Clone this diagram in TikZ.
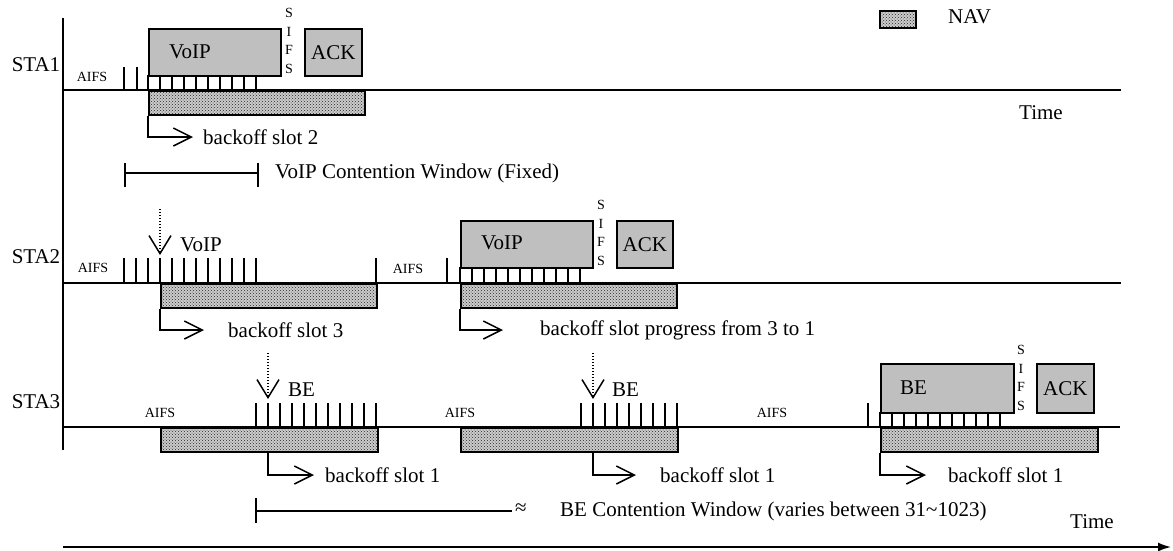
\documentclass[tikz,border=0pt]{standalone}
\usepackage{fontspec}
\setmainfont{Liberation Serif}
\usetikzlibrary{arrows.meta,patterns}
\begin{document}
\begin{tikzpicture}[x=1pt,y=-1pt,
  axis/.style={line width=1.6pt},
  tick/.style={line width=1.4pt},
  frame/.style={draw,line width=1.6pt,fill=gray!50,inner sep=0pt,anchor=north west},
  nav/.style={draw,line width=1.6pt,preaction={fill=gray!40},pattern=crosshatch dots,pattern color=black!85,inner sep=0pt,anchor=north west},
  lbl/.style={font=\fontsize{21}{21}\selectfont,inner sep=0pt},
  small/.style={font=\fontsize{14}{18.5}\selectfont,inner sep=0pt,align=center},
  bo/.style={line width=1.4pt,-{Straight Barb[length=18pt,width=18pt,line width=1.5pt]}},
  dotarr/.style={line width=1.2pt,dash pattern=on 1.4pt off 1.6pt,-{Straight Barb[length=18pt,width=22pt,line width=1.5pt]}}
]
\fill[white] (0,0) rectangle (1173,550);
\useasboundingbox (0,0) rectangle (1173,550);

% legend
\node[nav,minimum width=36pt,minimum height=17pt] (leg) at (879,10) {};
\node[lbl,anchor=west] (legt) at (948,17) {NAV};
\node[lbl] (time1) at (1041,113) {Time};

% axis
\coordinate (axtop) at (63,18);
\coordinate (axbot) at (63,450);
\draw[axis] (axtop) -- (axbot);

% ---------------- STA1 ----------------
\node[lbl] (sta1) at (36,65) {STA1};
\node[small] (aifs1) at (92,77) {AIFS};
\foreach \x in {124,137} \draw[tick] (\x,67) -- (\x,90);
\node[frame,minimum width=132pt,minimum height=47pt] (voip1) at (148,28) {};
\node[lbl,anchor=west] (voip1t) at (169,52) {VoIP};
\foreach \k in {0,...,9} \draw[tick] ({148+12*\k},75) -- ({148+12*\k},90);
\node[small] (sifs1) at (289,41) {S\\I\\F\\S};
\node[frame,minimum width=57pt,minimum height=47pt] (ack1) at (304,28) {};
\node[lbl] at (ack1.center) {ACK};
\node[nav,minimum width=216pt,minimum height=24pt] (nav1) at (148,90) {};
\coordinate (l1a) at (63,90); \coordinate (l1b) at (1121,90);
\draw[axis] (l1a) -- (l1b);
\node[lbl,anchor=west] (bs1) at (203,137) {backoff slot 2};
\draw[bo] (nav1.south west) |- ([xshift=-10pt]bs1.west);
% VoIP CW
\coordinate (cw1a) at (125,173); \coordinate (cw1b) at (258,173);
\draw[axis] (cw1a) -- (cw1b);
\draw[axis] (125,163) -- (125,187);
\draw[axis] (258,163) -- (258,187);
\node[lbl,anchor=west] (cw1t) at (275,173) {VoIP Contention Window (Fixed)};

% ---------------- STA2 ----------------
\node[lbl] (sta2) at (36,257) {STA2};
\node[small] (aifs2a) at (93,268) {AIFS};
\foreach \k in {0,...,11} \draw[tick] ({124+12*\k},258) -- ({124+12*\k},283);
\coordinate (d2a) at (160,209); \coordinate (d2b) at (160,255);
\draw[dotarr] (d2a) -- (d2b);
\node[lbl,anchor=west] (v2t) at (180,245) {VoIP};
\node[nav,minimum width=216pt,minimum height=24pt] (nav2a) at (160,283) {};
\draw[tick] (376,258) -- (376,283);
\node[small] (aifs2b) at (408,269) {AIFS};
\draw[tick] (447,258) -- (447,283);
\node[frame,minimum width=132pt,minimum height=47pt] (voip2) at (460,220) {};
\node[lbl,anchor=west] (voip2t) at (481,243) {VoIP};
\foreach \k in {0,...,10} \draw[tick] ({460+12*\k},267) -- ({460+12*\k},283);
\node[small] (sifs2) at (601,233) {S\\I\\F\\S};
\node[frame,minimum width=56pt,minimum height=47pt] (ack2) at (616,220) {};
\node[lbl] at (ack2.center) {ACK};
\node[nav,minimum width=216pt,minimum height=24pt] (nav2b) at (460,283) {};
\coordinate (l2a) at (63,283); \coordinate (l2b) at (1121,283);
\draw[axis] (l2a) -- (l2b);
\node[lbl,anchor=west] (bs2a) at (228,330) {backoff slot 3};
\draw[bo] (nav2a.south west) |- ([xshift=-24pt]bs2a.west);
\node[lbl,anchor=west] (bs2b) at (540,330) {backoff slot progress from 3 to 1};
\draw[bo] (nav2b.south west) |- ([xshift=-37pt]bs2b.west);

% ---------------- STA3 ----------------
\node[lbl] (sta3) at (36,402) {STA3};
\node[small] (aifs3a) at (160,413) {AIFS};
\node[small] (aifs3b) at (460,413) {AIFS};
\node[small] (aifs3c) at (772,413) {AIFS};
\node[nav,minimum width=217pt,minimum height=24pt] (nav3a) at (160,427) {};
\node[nav,minimum width=217pt,minimum height=24pt] (nav3b) at (460,427) {};
\node[nav,minimum width=217pt,minimum height=24pt] (nav3c) at (880,427) {};
\foreach \k in {0,...,10} \draw[tick] ({256+12*\k},403) -- ({256+12*\k},427);
\foreach \k in {0,...,8} \draw[tick] ({581+12*\k},403) -- ({581+12*\k},427);
\draw[tick] (868,403) -- (868,427);
\coordinate (d3a) at (268,353); \coordinate (d3b) at (268,399);
\draw[dotarr] (d3a) -- (d3b);
\node[lbl,anchor=west] (be3a) at (288,390) {BE};
\coordinate (d3c) at (593,353); \coordinate (d3d) at (593,399);
\draw[dotarr] (d3c) -- (d3d);
\node[lbl,anchor=west] (be3b) at (612,390) {BE};
\node[frame,minimum width=133pt,minimum height=49pt] (be3) at (880,363) {};
\node[lbl,anchor=west] (be3t) at (900,388) {BE};
\foreach \k in {0,...,10} \draw[tick] ({880+12*\k},412) -- ({880+12*\k},427);
\node[small] (sifs3) at (1021,378) {S\\I\\F\\S};
\node[frame,minimum width=57pt,minimum height=49pt] (ack3) at (1036,363) {};
\node[lbl] at (ack3.center) {ACK};
\coordinate (l3a) at (63,427); \coordinate (l3b) at (1120,427);
\draw[axis] (l3a) -- (l3b);
\coordinate (d0) at (268,451);
\node[lbl,anchor=west] (bs3a) at (325,475) {backoff slot 1};
\draw[bo] (d0) |- ([xshift=-11pt]bs3a.west);
\coordinate (d1) at (593,451);
\node[lbl,anchor=west] (bs3b) at (660,475) {backoff slot 1};
\draw[bo] (d1) |- ([xshift=-24pt]bs3b.west);
\node[lbl,anchor=west] (bs3c) at (948,475) {backoff slot 1};
\draw[bo] (nav3c.south west) |- ([xshift=-22pt]bs3c.west);

% BE CW
\coordinate (cw3a) at (256,511); \coordinate (cw3b) at (512,511);
\draw[axis] (cw3a) -- (cw3b);
\draw[axis] (256,498) -- (256,523);
\node[lbl] (approx) at (521,509) {≈};
\node[lbl,anchor=west] (cw3t) at (560,511) {BE Contention Window (varies between 31\char`\~1023)};

% time axis
\coordinate (ta) at (63,547); \coordinate (tb) at (1171,547);
\draw[axis,-{Latex[length=13pt,width=9pt]}] (ta) -- (tb);
\node[lbl] (time2) at (1092,522) {Time};
\end{tikzpicture}
\end{document}
